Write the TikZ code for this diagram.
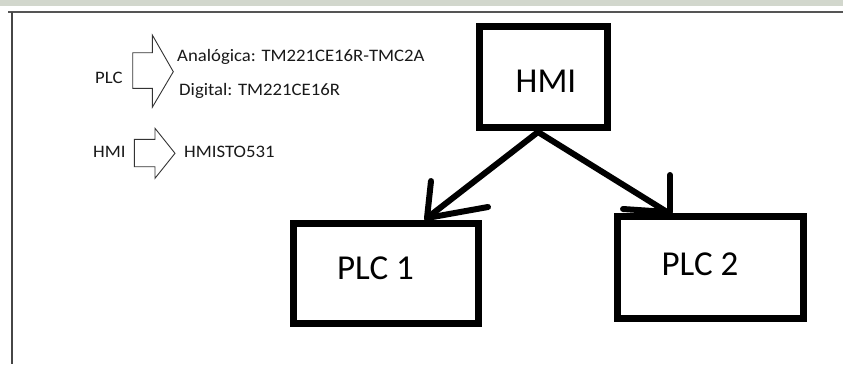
\documentclass[tikz,border=0pt]{standalone}
\usepackage{fontspec}
\setmainfont{Carlito}
\newfontfamily\legendfont[FakeStretch=1.07]{Carlito}
\begin{document}
\begin{tikzpicture}[x=1pt,y=-1pt,
  box/.style={draw=black,line width=7pt,minimum width=#1,inner sep=0pt},
  bigtext/.style={font=\fontsize{35}{40}\selectfont,anchor=base,inner sep=0pt},
  legend/.style={font=\legendfont\fontsize{17.5}{20}\selectfont,anchor=base west,inner sep=0pt,text=black!90},
  link/.style={line width=6pt,line cap=round},
  blockarrow/.style={draw=black!80,line width=0.9pt,line join=miter}
]
\useasboundingbox (0,0) rectangle (843,364);
\fill[white] (0,0) rectangle (843,364);
% faded strip along the top edge
\fill[color={rgb,255:red,210;green,215;blue,205}] (0,0) rectangle (843,6);
% page frame
\draw[color={rgb,255:red,85;green,85;blue,85},line width=1.6pt] (8,12) -- (843,12);
\draw[color={rgb,255:red,70;green,70;blue,70},line width=1.6pt] (12,12) -- (12,364);

% boxes
\node[box=128pt,minimum height=101pt] (hmi)  at (543.5,77)   {};
\node[box=185pt,minimum height=100pt] (plc1) at (386,273.5)  {};
\node[box=186pt,minimum height=102pt] (plc2) at (710.5,267.5){};
\node[bigtext] (hmitxt)  at (546,92)    {HMI};
\node[bigtext] (plc1txt) at (375.5,279) {PLC 1};
\node[bigtext] (plc2txt) at (700,275)   {PLC 2};

% hand-drawn connectors
\coordinate (apex) at (538,132);
\coordinate (tipA) at (427,218);
\coordinate (tipB) at (667,212);
\coordinate (barbA1) at (431,181);
\coordinate (barbA2) at (488,207);
\coordinate (barbB1) at (670,175);
\coordinate (barbB2) at (623,209);
\draw[link] (apex) -- (tipA);
\draw[link] (apex) -- (tipB);
\draw[link] (barbA1) -- (tipA);
\draw[link] (barbA2) -- (tipA);
\draw[link] (barbB1) -- (670,212);
\draw[link] (barbB2) -- (tipB);

% legend
\node[legend] (lplc) at (95,83.3) {PLC};
\draw[blockarrow] (132.7,52.7) -- (152.3,52.7) -- (152.3,35) -- (173.3,71.7)
  -- (152.3,107.3) -- (152.3,88.3) -- (132.7,88.3) -- cycle;
\node[legend] (lana) at (177,61.7) {Analógica: TM221CE16R-TMC2A};
\node[legend] (ldig) at (179,95.5) {Digital: TM221CE16R};

\node[legend] (lhmi) at (93,157.7) {HMI};
\draw[blockarrow] (134.3,139.3) -- (155,139.3) -- (155,128.3) -- (175,153.3)
  -- (155,178.3) -- (155,166.7) -- (134.3,166.7) -- cycle;
\node[legend] (lhmis) at (184,157.5) {HMISTO531};
\end{tikzpicture}
\end{document}
